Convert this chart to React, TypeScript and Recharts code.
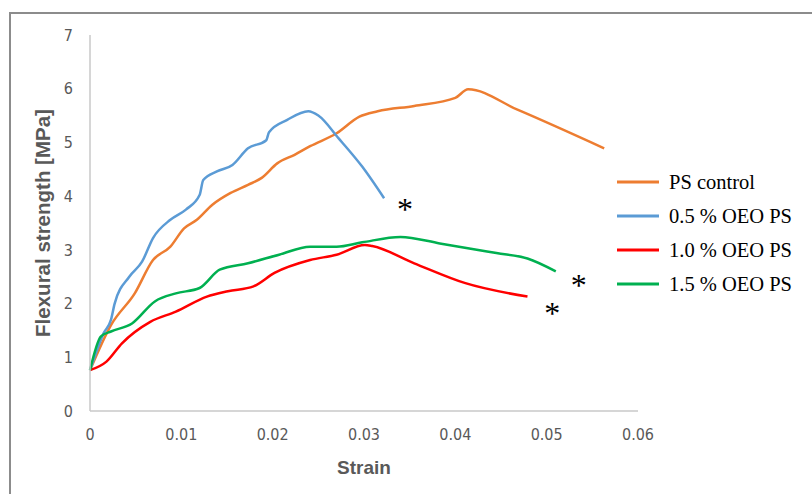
import React from 'react';
import {
  LineChart,
  Line,
  XAxis,
  YAxis,
  Legend,
  ReferenceDot,
} from 'recharts';

const STRAIN_TICKS = [0, 0.01, 0.02, 0.03, 0.04, 0.05, 0.06];
const STRENGTH_TICKS = [0, 1, 2, 3, 4, 5, 6, 7];

const controlStrain = [0, 0.0023, 0.0049, 0.0069, 0.0088, 0.0103, 0.0117, 0.0134, 0.0154, 0.0173, 0.0188, 0.0205, 0.0224, 0.0241, 0.027, 0.0295, 0.0315, 0.0355, 0.04, 0.0414, 0.0468, 0.0563];
const controlStress = [0.76, 1.6, 2.19, 2.81, 3.06, 3.4, 3.56, 3.84, 4.06, 4.21, 4.34, 4.61, 4.77, 4.93, 5.17, 5.48, 5.58, 5.68, 5.83, 5.99, 5.61, 4.89];

const oeo05Strain = [0, 0.0015, 0.0023, 0.0027, 0.0043, 0.0057, 0.0069, 0.0088, 0.0105, 0.012, 0.0124, 0.0139, 0.0156, 0.0173, 0.0193, 0.0196, 0.0216, 0.0239, 0.025, 0.0272, 0.0298, 0.0322];
const oeo05Stress = [0.76, 1.45, 1.7, 2.0, 2.5, 2.78, 3.22, 3.56, 3.75, 4.02, 4.3, 4.46, 4.58, 4.89, 5.04, 5.19, 5.42, 5.58, 5.5, 5.08, 4.55, 3.96];

const oeo10Strain = [0, 0.0018, 0.0035, 0.0066, 0.0094, 0.0128, 0.0151, 0.0179, 0.0202, 0.0241, 0.027, 0.0301, 0.0309, 0.0355, 0.0411, 0.0479];
const oeo10Stress = [0.76, 0.92, 1.26, 1.66, 1.85, 2.13, 2.23, 2.32, 2.57, 2.81, 2.91, 3.09, 3.07, 2.75, 2.38, 2.13];

const oeo15Strain = [0, 0.0012, 0.0023, 0.0046, 0.0071, 0.0094, 0.012, 0.0142, 0.0173, 0.0207, 0.0241, 0.027, 0.0298, 0.034, 0.0383, 0.0445, 0.0479, 0.051];
const oeo15Stress = [0.76, 1.39, 1.48, 1.63, 2.04, 2.19, 2.29, 2.63, 2.75, 2.91, 3.06, 3.06, 3.14, 3.24, 3.12, 2.94, 2.84, 2.6];

// significance marks placed next to the curve ends
const markStrain = [0.0345, 0.0535, 0.0506];
const markStress = [3.8, 2.38, 1.86];

const toRows = (xs: number[], ys: number[]) => xs.map((x, i) => ({ x, y: ys[i] }));

const SERIES = [
  { name: 'PS control', color: '#ED7D31', data: toRows(controlStrain, controlStress) },
  { name: '0.5 % OEO PS', color: '#5B9BD5', data: toRows(oeo05Strain, oeo05Stress) },
  { name: '1.0 % OEO PS', color: '#FF0000', data: toRows(oeo10Strain, oeo10Stress) },
  { name: '1.5 % OEO PS', color: '#00B050', data: toRows(oeo15Strain, oeo15Stress) },
];

const TICK_FONT = "'Liberation Sans Narrow', 'DejaVu Sans Condensed', Arial, sans-serif";
const TITLE_FONT = "'Liberation Sans', Arial, sans-serif";

function LegendBox() {
  return (
    <div style={{ fontFamily: "'Liberation Serif', 'Times New Roman', serif", fontSize: 20.5, color: '#000' }}>
      {SERIES.map((s) => (
        <div key={s.name} style={{ display: 'flex', alignItems: 'center', height: 34 }}>
          <svg width={42} height={6} style={{ marginRight: 10 }}>
            <line x1={0} y1={3} x2={42} y2={3} stroke={s.color} strokeWidth={3} />
          </svg>
          <span>{s.name}</span>
        </div>
      ))}
    </div>
  );
}

const Asterisk = (props: any) => (
  <text x={props.cx} y={props.cy + 13} textAnchor="middle" fontSize={32} fontFamily="'Liberation Serif', serif" fill="#000">
    *
  </text>
);

export default function App() {
  return (
    <div style={{ position: 'absolute', left: 0, top: 0, width: 812, height: 494, background: '#fff', overflow: 'hidden' }}>
      <div style={{ position: 'absolute', left: 9, top: 12, width: 900, height: 600, border: '2px solid #8c8c8c' }} />
      <div style={{ position: 'absolute', left: 0, top: 0 }}>
        <LineChart width={812} height={494} margin={{ top: 35, right: 174, bottom: 13, left: 30 }}>
          <XAxis
            type="number"
            dataKey="x"
            domain={[0, 0.06]}
            ticks={STRAIN_TICKS}
            tickLine={false}
            tickSize={6}
            tickMargin={12}
            height={70}
            axisLine={{ stroke: '#c8c8c8', strokeWidth: 1.5 }}
            tick={{ fill: '#595959', fontSize: 16, fontFamily: TICK_FONT }}
            label={{
              value: 'Strain',
              position: 'insideBottom',
              offset: 7,
              style: { fill: '#595959', fontSize: 19, fontWeight: 700, fontFamily: TITLE_FONT },
            }}
          />
          <YAxis
            type="number"
            dataKey="y"
            domain={[0, 7]}
            ticks={STRENGTH_TICKS}
            tickLine={false}
            tickSize={6}
            tickMargin={11}
            width={60}
            axisLine={{ stroke: '#c8c8c8', strokeWidth: 1.5 }}
            tick={{ fill: '#595959', fontSize: 16, fontFamily: TICK_FONT }}
            label={{
              value: 'Flexural strength [MPa]',
              angle: -90,
              position: 'insideLeft',
              offset: 13,
              style: { textAnchor: 'middle', fill: '#595959', fontSize: 20.5, fontWeight: 700, fontFamily: TITLE_FONT },
            }}
          />
          <Legend
            layout="vertical"
            align="center"
            verticalAlign="middle"
            content={() => <LegendBox />}
            wrapperStyle={{ left: 617, top: 165, width: 195 }}
          />
          {SERIES.map((s) => (
            <Line
              key={s.name}
              name={s.name}
              data={s.data}
              dataKey="y"
              type="monotone"
              stroke={s.color}
              strokeWidth={2.5}
              dot={false}
              activeDot={false}
              isAnimationActive={false}
            />
          ))}
          {markStrain.map((x, i) => (
            <ReferenceDot key={i} x={x} y={markStress[i]} r={0} shape={Asterisk} />
          ))}
        </LineChart>
      </div>
    </div>
  );
}
